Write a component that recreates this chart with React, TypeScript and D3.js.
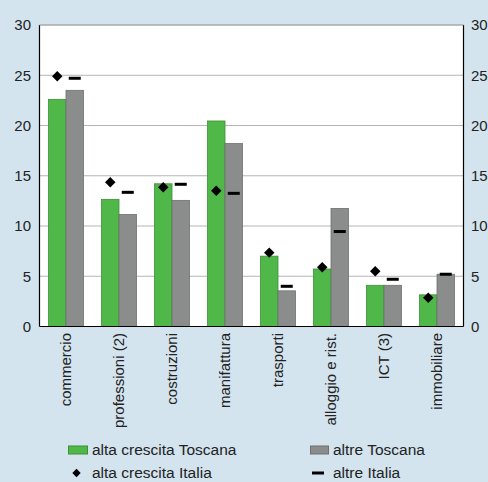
import React from "react";
import * as d3 from "d3";

const categories = ["commercio", "professioni (2)", "costruzioni", "manifattura", "trasporti", "alloggio e rist.", "ICT (3)", "immobiliare"];
const altaToscana = [22.6, 12.65, 14.2, 20.45, 7.0, 5.72, 4.1, 3.15];
const altreToscana = [23.5, 11.15, 12.55, 18.2, 3.55, 11.75, 4.1, 5.2];
const altaItalia = [24.9, 14.35, 13.85, 13.5, 7.35, 5.9, 5.5, 2.87];
const altreItalia = [24.7, 13.35, 14.15, 13.25, 4.0, 9.45, 4.7, 5.2];
const yTicks = [0, 5, 10, 15, 20, 25, 30];

const W = 488, H = 482;
const L = 39.5, R = 463.5, T = 25, B = 326.5;
const GREEN = "#50b749";
const GREEN_S = "#3e8e3a";
const GRAY = "#8b8d8d";
const GRAY_S = "#6e7070";
const BG = "#d3e4ee";
const FONT = "'Liberation Sans', Arial, sans-serif";
const FS = 15;
const LFS = 15.5;

export default function App() {
  const x = d3.scaleBand<string>().domain(categories).range([L, R]).paddingInner(0).paddingOuter(0);
  const y = d3.scaleLinear().domain([0, 30]).range([B, T]);
  const bw = 17.5;
  const diamond = d3.symbol().type(d3.symbolDiamond2).size(70)() as string;
  return (
    <svg width={W} height={H} style={{ position: "absolute", left: 0, top: 0 }} fontFamily={FONT}>
      <rect x={0} y={0} width={W} height={H} fill={BG} />
      <rect x={L} y={T} width={R - L} height={B - T} fill="#ffffff" />
      {yTicks.map((t) => (
        <g key={t}>
          {t > 0 && <line x1={L} x2={R} y1={y(t)} y2={y(t)} stroke="#b5b5b5" strokeWidth={1} />}
          <text x={31} y={y(t)} dy="0.35em" textAnchor="end" fontSize={FS} fill="#222">{t}</text>
          <text x={471} y={y(t)} dy="0.35em" textAnchor="start" fontSize={FS} fill="#222">{t}</text>
        </g>
      ))}
      {categories.map((c, i) => {
        const cx = (x(c) as number) + x.bandwidth() / 2;
        return (
          <g key={c}>
            <rect x={cx - bw} y={y(altaToscana[i])} width={bw} height={B - y(altaToscana[i])} fill={GREEN} stroke={GREEN_S} strokeWidth={0.8} />
            <rect x={cx} y={y(altreToscana[i])} width={bw} height={B - y(altreToscana[i])} fill={GRAY} stroke={GRAY_S} strokeWidth={0.8} />
            <path d={diamond} transform={`translate(${cx - bw / 2},${y(altaItalia[i])})`} fill="#000" />
            <rect x={cx + bw / 2 - 6} y={y(altreItalia[i]) - 1.5} width={12} height={3} fill="#000" />
            <text transform={`translate(${cx},333) rotate(-90)`} dy="0.35em" textAnchor="end" fontSize={FS} fill="#222">{c}</text>
          </g>
        );
      })}
      <line x1={L} x2={L} y1={T} y2={B} stroke="#000" strokeWidth={1.2} />
      <line x1={R} x2={R} y1={T} y2={B} stroke="#000" strokeWidth={1.2} />
      <line x1={L} x2={R} y1={B} y2={B} stroke="#000" strokeWidth={1.2} />
      <line x1={L} x2={R} y1={T} y2={T} stroke="#a0a4a6" strokeWidth={1.2} />
      {/* legend */}
      <rect x={68.5} y={446} width={19} height={8} fill={GREEN} stroke={GREEN_S} strokeWidth={1} />
      <text x={92} y={450} dy="0.35em" fontSize={LFS} fill="#222">alta crescita Toscana</text>
      <rect x={310.5} y={446} width={18} height={8} fill={GRAY} stroke={GRAY_S} strokeWidth={1} />
      <text x={333} y={450} dy="0.35em" fontSize={LFS} fill="#222">altre Toscana</text>
      <path d={d3.symbol().type(d3.symbolDiamond2).size(45)() as string} transform="translate(76.5,473)" fill="#000" />
      <text x={92} y={473} dy="0.35em" fontSize={LFS} fill="#222">alta crescita Italia</text>
      <rect x={312} y={471.5} width={12} height={3} fill="#000" />
      <text x={333} y={473} dy="0.35em" fontSize={LFS} fill="#222">altre Italia</text>
    </svg>
  );
}
